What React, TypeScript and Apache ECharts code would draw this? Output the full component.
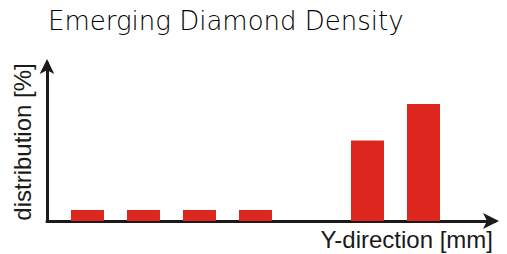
import React, { useEffect, useRef } from "react";
import * as echarts from "echarts";

const TITLE = "Emerging Diamond Density";
const X_NAME = "Y-direction [mm]";
const Y_NAME = "distribution [%]";
const positions = [1, 2, 3, 4, 5, 6, 7];
const values = [7, 7, 7, 7, 0, 51, 74];

export default function App() {
  const ref = useRef<HTMLDivElement>(null);
  useEffect(() => {
    const chart = echarts.init(ref.current!, null, { renderer: "svg" });
    const axisColor = "#1e1a1a";
    chart.setOption({
      animation: false,
      backgroundColor: "#ffffff",
      title: {
        text: TITLE,
        left: 43,
        top: 3,
        textStyle: {
          fontFamily: "DejaVu Sans",
          fontWeight: 200,
          fontSize: 26,
          color: "#000000",
        },
      },
      grid: { left: 47, top: 63, width: 448, bottom: 33, outerBoundsMode: "none", containLabel: false },
      xAxis: {
        type: "value",
        min: 0.277,
        max: 8.277,
        name: X_NAME,
        nameLocation: "end",
        nameGap: -2,
        nameTextStyle: {
          fontFamily: "Liberation Sans",
          fontSize: 24,
          color: "#1a1a1a",
          align: "right",
          verticalAlign: "top",
          padding: [6, 0, 0, 0],
        },
        axisLine: {
          show: true,
          onZero: false,
          symbol: ["none", "arrow"],
          symbolSize: [12, 16],
          symbolOffset: [0, 4],
          lineStyle: { color: axisColor, width: 3 },
        },
        axisTick: { show: false },
        axisLabel: { show: false },
        splitLine: { show: false },
      },
      yAxis: {
        type: "value",
        min: 0,
        max: 100,
        name: Y_NAME,
        nameLocation: "middle",
        nameRotate: 90,
        nameGap: 13,
        nameTextStyle: {
          fontFamily: "Liberation Sans",
          fontSize: 24,
          color: "#1a1a1a",
        },
        axisLine: {
          show: true,
          symbol: ["none", "arrow"],
          symbolSize: [11, 15],
          symbolOffset: [0, 4],
          lineStyle: { color: axisColor, width: 3 },
        },
        axisTick: { show: false },
        axisLabel: { show: false },
        splitLine: { show: false },
      },
      series: [
        {
          type: "bar",
          data: positions.map((p, i) => [p, values[i]]),
          barWidth: 33,
          itemStyle: { color: "#dc261e" },
          z: 1,
        },
      ],
    });
    return () => chart.dispose();
  }, []);
  return <div ref={ref} style={{ width: 507, height: 254, position: "absolute", left: 0, top: 0 }} />;
}
